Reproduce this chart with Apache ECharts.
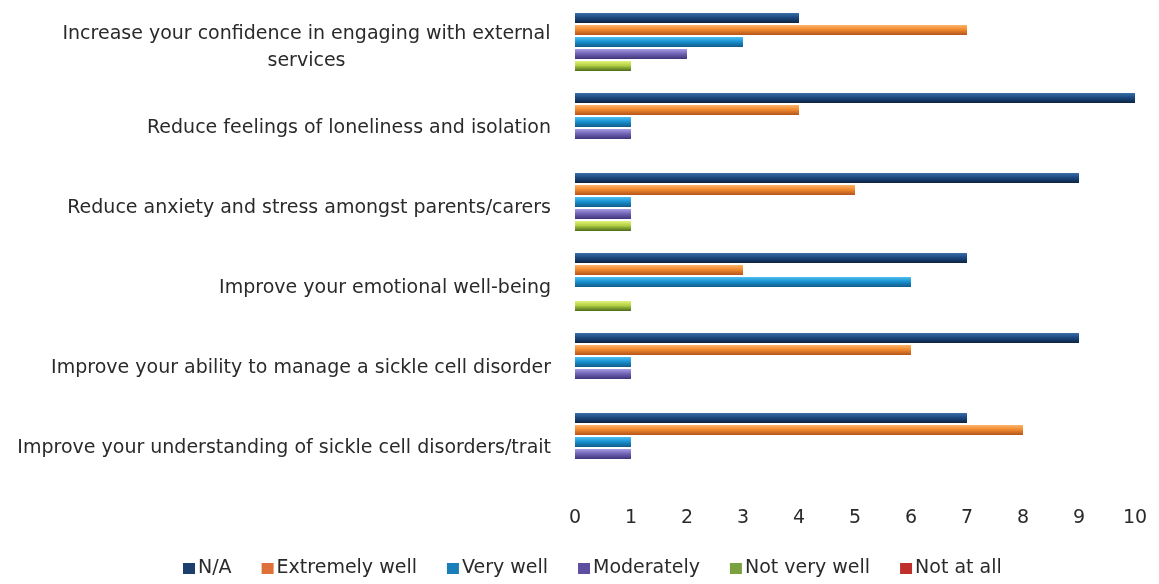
<!DOCTYPE html>
<html><head><meta charset="utf-8">
<script src="https://cdn.jsdelivr.net/npm/echarts@6/dist/echarts.min.js"></script>
<style>html,body{margin:0;padding:0;background:#fff}#c{width:1159px;height:584px}</style>
</head><body><div id="c"></div>
<script>
const categories = [
  "Increase your confidence in engaging with external\nservices",
  "Reduce feelings of loneliness and isolation",
  "Reduce anxiety and stress amongst parents/carers",
  "Improve your emotional well-being",
  "Improve your ability to manage a sickle cell disorder",
  "Improve your understanding of sickle cell disorders/trait"
];
const seriesNames = ["N/A", "Extremely well", "Very well", "Moderately", "Not very well", "Not at all"];
const naValues = [4, 10, 9, 7, 9, 7];
const extremelyWellValues = [7, 4, 5, 3, 6, 8];
const veryWellValues = [3, 1, 1, 6, 1, 1];
const moderatelyValues = [2, 1, 1, 0, 1, 1];
const notVeryWellValues = [1, 0, 1, 1, 0, 0];
const notAtAllValues = [0, 0, 0, 0, 0, 0];
const xTicks = [0, 1, 2, 3, 4, 5, 6, 7, 8, 9, 10];

const allValues = [naValues, extremelyWellValues, veryWellValues, moderatelyValues, notVeryWellValues, notAtAllValues];
const palettes = [
  ["#3a6ea8", "#1c4a80", "#0d2340"],
  ["#fbb46a", "#f08a30", "#b4541a"],
  ["#4fc0ef", "#1b92d2", "#0f5c88"],
  ["#a89ee0", "#7466b8", "#3e3478"],
  ["#e4f27a", "#b2d044", "#4a6a1c"],
  ["#e0706c", "#c0392f", "#7a1c18"]
];
const legendColors = ["#1c3f6e", "#e0703a", "#1a7fb8", "#5e4ea0", "#7aa040", "#c0302a"];

function grad(p) {
  return new echarts.graphic.LinearGradient(0, 0, 0, 1, [
    {offset: 0, color: p[0]}, {offset: 0.45, color: p[1]}, {offset: 1, color: p[2]}
  ]);
}

const chart = echarts.init(document.getElementById('c'), null, {renderer: 'canvas'});
const font = "'DejaVu Sans', sans-serif";
const fs = 19;
const fw = 'normal';
const tc = '#2a2a2a';
chart.setOption({
  animation: false,
  textStyle: {fontFamily: font},
  grid: {left: 575, right: 24, top: 8, bottom: 96, containLabel: false, outerBoundsMode: 'none'},
  legend: {
    bottom: 1, left: 178, itemWidth: 12, itemHeight: 11, itemGap: 30,
    icon: 'rect',
    textStyle: {fontFamily: font, fontSize: fs, fontWeight: fw, color: tc, padding: [0, 0, 0, -2]},
    data: seriesNames.map((n, i) => ({name: n, itemStyle: {color: legendColors[i]}}))
  },
  xAxis: {
    type: 'value', min: 0, max: 10, interval: 1,
    axisLine: {show: false}, axisTick: {show: false}, splitLine: {show: false},
    axisLabel: {fontFamily: font, fontSize: fs, fontWeight: fw, color: tc, margin: 21,
      formatter: v => xTicks.includes(v) ? String(v) : ''}
  },
  yAxis: {
    type: 'category', inverse: true, data: categories,
    axisLine: {show: false}, axisTick: {show: false},
    axisLabel: {
      fontFamily: font, fontSize: fs, fontWeight: fw, color: tc, margin: 24,
      formatter: function (v) {
        if (v.indexOf('\n') >= 0) {
          return v.split('\n').map(s => '{c|' + s + '}').join('\n');
        }
        return v;
      },
      rich: {c: {width: 489, align: 'center', fontFamily: font, fontSize: fs, fontWeight: fw, color: tc, lineHeight: 27}}
    }
  },
  series: seriesNames.map((n, i) => ({
    name: n, type: 'bar', data: allValues[i],
    barWidth: 10, barGap: '20%',
    itemStyle: {color: grad(palettes[i])}
  }))
});
</script></body></html>
